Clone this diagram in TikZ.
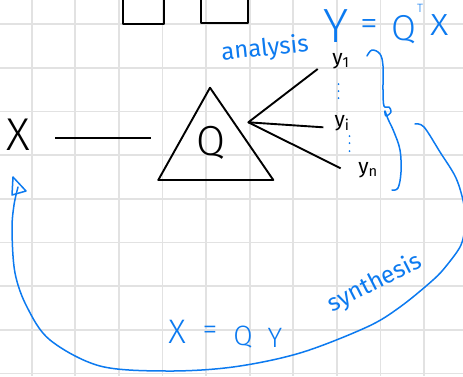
\documentclass[tikz,border=0pt]{standalone}
\usepackage{fontspec}
\setmainfont{Fira Sans Light}
\newfontfamily\regf{Fira Sans}
\usetikzlibrary{arrows.meta}
\definecolor{ink}{RGB}{12,122,240}
\definecolor{gridc}{RGB}{226,226,226}
\tikzset{
  blk/.style={line width=1.9pt, black, line join=round},
  blu/.style={line width=1.5pt, ink, line cap=round, line join=round},
  btxt/.style={text=ink, inner sep=0pt},
  ktxt/.style={text=black, inner sep=0pt},
}
\newcommand{\fs}[1]{\fontsize{#1}{#1}\selectfont}
\begin{document}
\begin{tikzpicture}[x=1pt,y=-1pt]
\useasboundingbox (0,0) rectangle (463,376);
\fill[white] (0,0) rectangle (463,376);
\clip (0,0) rectangle (463,376);
% grid
\foreach \i in {0,...,9} \draw[gridc, line width=1.8pt] ({31.7+43.6*\i},0) -- ({31.7+43.6*\i},376);
\foreach \j in {0,...,8} \draw[gridc, line width=1.8pt] (0,{24.2+43.65*\j}) -- (463,{24.2+43.65*\j});
% top boxes
\draw[blk] (122.7,-5) -- (122.7,24) -- (164.3,24) -- (164.3,-5);
\draw[blk] (201.3,-5) -- (201.3,22.7) -- (248,22.7) -- (248,-5);
% X and line
\node[ktxt, font=\fs{46}] (X) at (18,135) {X};
\coordinate (l1) at (55,137.7);
\coordinate (l2) at (151,137.7);
\draw[blk] (l1) -- (l2);
% triangle
\coordinate (ta) at (210,87.7);
\coordinate (tb) at (158.3,180);
\coordinate (tc) at (273.3,180);
\draw[blk] (ta) -- (tb) -- (tc) -- cycle;
\node[ktxt, font=\fs{42}] (Q) at (211,143) {Q};
% fan
\coordinate (f0) at (248.3,122.3);
\coordinate (f1) at (317.7,69);
\coordinate (f2) at (323.3,127.3);
\coordinate (f3) at (340.7,168.3);
\draw[blk] (f1) -- (f0) -- (f2);
\draw[blk] (f0) -- (f3);
\node[ktxt, font=\regf\fs{21}] (y1) at (341,61) {y\textsubscript{1}};
\node[ktxt, font=\regf\fs{21}] (yi) at (342,123) {y\textsubscript{i}};
\node[ktxt, font=\regf\fs{21}] (yn) at (368,170) {y\textsubscript{n}};
% blue dots
\foreach \y in {84,91,98} \fill[ink] (338.5,\y) circle (1pt);
\foreach \y in {136,143,151} \fill[ink] (349.5,\y) circle (1pt);
% brace
\draw[blu] plot[smooth, tension=0.6] coordinates {(367,56) (372,50) (380,54) (383,66) (383,90) (384,106) (389,107) (391,112) (386,116) (385,111) (388,119) (394,132) (400,150) (401,172) (398,188) (392,190)};
% analysis labels
\node[btxt, font=\regf\fs{24}, rotate=6] (an) at (265,49) {analysis};
\node[btxt, font=\fs{48}] (eY) at (336,26) {Y};
\node[btxt, font=\fs{36}] (eE) at (369,28) {=};
\node[btxt, font=\fs{36}] (eQ) at (404,30) {Q};
\node[btxt, font=\fs{12}] (eT) at (420,8) {T};
\node[btxt, font=\fs{40}] (ex) at (440,25) {x};
% synthesis arrow
\coordinate (tipA) at (13,177);
\coordinate (tipB) at (26,191);
\coordinate (tipC) at (12,195);
\coordinate (shaftEnd) at (18,187);
\draw[blu] plot[smooth, tension=0.55] coordinates {(415,124) (424,127) (440,152) (456,178) (464,205) (465,225) (461,245) (447,265) (433,280) (400,307) (367,327) (300,353) (233,367) (167,371) (100,366) (50,340) (27,307) (15,273) (12,230) (14,205) (18,187)};
\draw[blu] (tipA) -- (tipB) -- (tipC) -- cycle;
\node[btxt, font=\fs{34}] (bX) at (177,332) {X};
\node[btxt, font=\fs{30}] (bE) at (210,333) {=};
\node[btxt, font=\fs{28}] (bQ) at (243,337) {Q};
\node[btxt, font=\fs{28}] (bY) at (275,338) {Y};
\node[btxt, font=\regf\fs{24}, rotate=27] (syn) at (375,283) {synthesis};
\end{tikzpicture}
\end{document}
